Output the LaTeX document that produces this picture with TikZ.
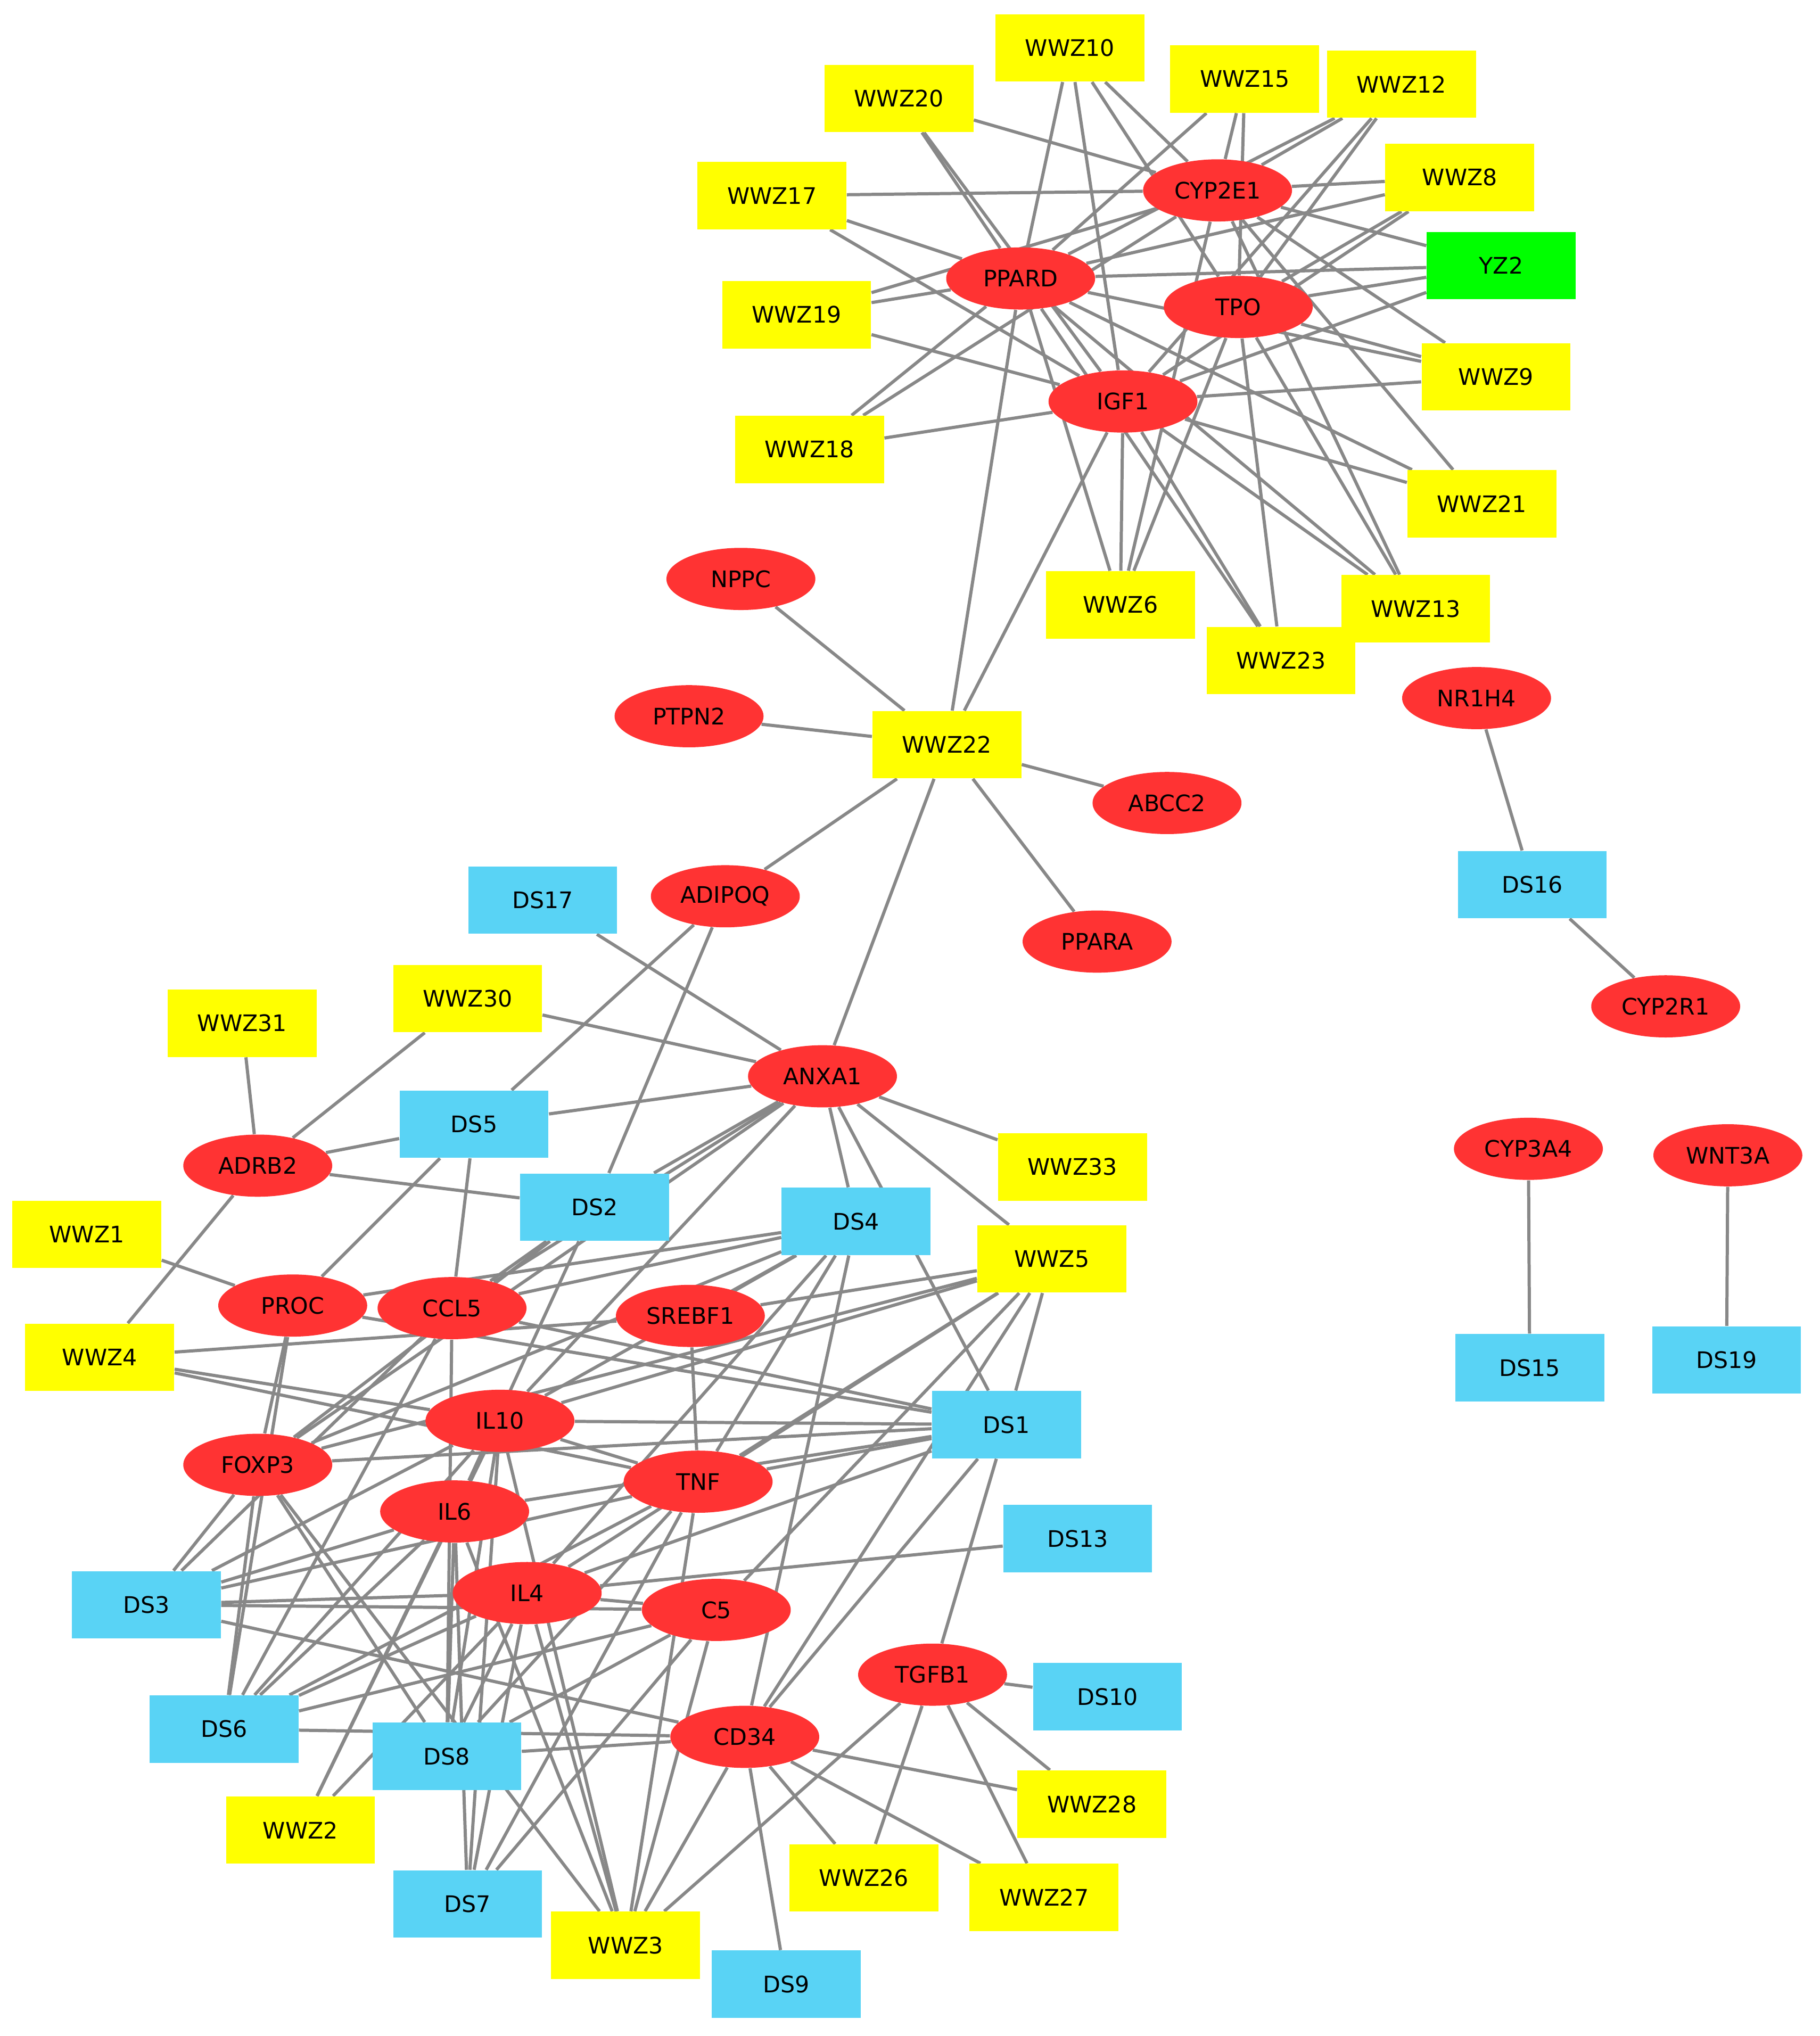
\documentclass[tikz,border=0pt]{standalone}
\usepackage{fontspec}
\setmainfont{DejaVu Sans}
\usetikzlibrary{shapes.geometric}
\pgfdeclarelayer{bg}
\pgfsetlayers{bg,main}
\definecolor{ered}{RGB}{255,51,51}
\definecolor{eyel}{RGB}{255,255,0}
\definecolor{eblu}{RGB}{89,211,245}
\definecolor{egrn}{RGB}{0,255,0}
\definecolor{egry}{RGB}{136,136,136}
\tikzset{
 base/.style={minimum width=2.3cm, font=\fontsize{10}{12}\selectfont, inner sep=0pt},
 gene/.style={base, ellipse, fill=ered, minimum height=0.96cm},
 wbox/.style={base, rectangle, fill=eyel, minimum height=1.04cm},
 dbox/.style={base, rectangle, fill=eblu, minimum height=1.04cm},
 gbox/.style={base, rectangle, fill=egrn, minimum height=1.04cm},
 edge/.style={draw=egry, line width=1.4pt}
}
\begin{document}
\begin{tikzpicture}[x=0.02cm,y=-0.02cm]
\useasboundingbox (0,0) rectangle (1405,1572);
% genes
\foreach \n/\x/\y in {CYP2E1/940/147,PPARD/788/215,TPO/956/237,IGF1/867/310,NPPC/572/447,PTPN2/532/553,NR1H4/1140/539,ABCC2/901/620,ADIPOQ/560/692,PPARA/847/727,CYP2R1/1286/777,ANXA1/635/831,ADRB2/199/900,CYP3A4/1180/887,WNT3A/1334/892,PROC/226/1008,CCL5/349/1010,SREBF1/533/1016,IL10/386/1097,FOXP3/199/1131,TNF/539/1144,IL6/351/1167,IL4/407/1230,C5/553/1243,TGFB1/720/1293,CD34/575/1341}
  \node[gene] (\n) at (\x,\y) {\n};
% yellow boxes
\foreach \n/\x/\y in {WWZ10/826/37,WWZ15/961/61,WWZ12/1082/65,WWZ20/694/76,WWZ8/1127/137,WWZ17/596/151,WWZ19/615/243,WWZ9/1155/291,WWZ18/625/347,WWZ21/1144/389,WWZ6/865/467,WWZ13/1093/470,WWZ23/989/510,WWZ22/731/575,WWZ31/187/790,WWZ30/361/771,WWZ33/828/901,WWZ1/67/953,WWZ5/812/972,WWZ4/77/1048,WWZ28/843/1393,WWZ2/232/1413,WWZ26/667/1450,WWZ27/806/1465,WWZ3/483/1502}
  \node[wbox] (\n) at (\x,\y) {\n};
% blue boxes
\foreach \n/\x/\y in {DS16/1183/683,DS17/419/695,DS5/366/868,DS2/459/932,DS4/661/943,DS15/1181/1056,DS19/1333/1050,DS1/777/1100,DS13/832/1188,DS3/113/1239,DS10/855/1310,DS6/173/1335,DS8/345/1356,DS7/361/1470,DS9/607/1532}
  \node[dbox] (\n) at (\x,\y) {\n};
\node[gbox] (YZ2) at (1159,205) {YZ2};
\begin{pgfonlayer}{bg}
\foreach \a/\b in {
WWZ10/PPARD,WWZ10/IGF1,WWZ10/TPO,WWZ10/CYP2E1,
WWZ20/CYP2E1,WWZ20/PPARD,WWZ20/IGF1,
WWZ15/PPARD,WWZ15/CYP2E1,WWZ15/TPO,
WWZ12/CYP2E1,WWZ12/PPARD,WWZ12/TPO,WWZ12/IGF1,
WWZ17/CYP2E1,WWZ17/PPARD,WWZ17/IGF1,
WWZ8/CYP2E1,WWZ8/PPARD,WWZ8/TPO,WWZ8/IGF1,
YZ2/CYP2E1,YZ2/PPARD,YZ2/TPO,YZ2/IGF1,
WWZ19/CYP2E1,WWZ19/PPARD,WWZ19/IGF1,
WWZ9/CYP2E1,WWZ9/PPARD,WWZ9/TPO,WWZ9/IGF1,
WWZ18/CYP2E1,WWZ18/PPARD,WWZ18/IGF1,
WWZ21/CYP2E1,WWZ21/PPARD,WWZ21/IGF1,
WWZ6/PPARD,WWZ6/IGF1,WWZ6/TPO,WWZ6/CYP2E1,
WWZ13/PPARD,WWZ13/IGF1,WWZ13/TPO,WWZ13/CYP2E1,
WWZ23/PPARD,WWZ23/IGF1,WWZ23/TPO,
WWZ22/PPARD,WWZ22/IGF1,WWZ22/NPPC,WWZ22/PTPN2,WWZ22/ABCC2,WWZ22/PPARA,WWZ22/ADIPOQ,WWZ22/ANXA1,
NR1H4/DS16,DS16/CYP2R1,CYP3A4/DS15,WNT3A/DS19,
DS17/ANXA1,WWZ30/ANXA1,WWZ30/ADRB2,WWZ31/ADRB2,
DS5/ANXA1,DS5/ADRB2,DS5/ADIPOQ,DS5/PROC,DS5/CCL5,
DS2/ADIPOQ,DS2/ADRB2,ADRB2/WWZ4,WWZ1/PROC,
ANXA1/WWZ33,ANXA1/WWZ5,ANXA1/DS4,ANXA1/DS2,ANXA1/CCL5,ANXA1/IL10,ANXA1/DS1,ANXA1/FOXP3,
DS2/CCL5,DS2/FOXP3,DS2/IL6,
DS4/PROC,DS4/CCL5,DS4/SREBF1,DS4/FOXP3,DS4/IL10,DS4/TNF,DS4/IL4,DS4/CD34,
WWZ5/SREBF1,WWZ5/IL10,WWZ5/FOXP3,WWZ5/TNF,WWZ5/IL4,WWZ5/C5,WWZ5/CD34,WWZ5/DS1,
WWZ4/SREBF1,WWZ4/IL10,WWZ4/TNF,
DS1/CCL5,DS1/PROC,DS1/IL10,DS1/FOXP3,DS1/TNF,DS1/IL6,DS1/IL4,DS1/CD34,DS1/TGFB1,
DS3/FOXP3,DS3/CCL5,DS3/IL10,DS3/IL6,DS3/IL4,DS3/C5,DS3/CD34,DS3/TNF,
DS6/FOXP3,DS6/PROC,DS6/CCL5,DS6/IL10,DS6/IL6,DS6/IL4,DS6/C5,DS6/TNF,DS6/CD34,
DS8/FOXP3,DS8/IL10,DS8/IL6,DS8/IL4,DS8/TNF,DS8/CD34,DS8/C5,DS8/CCL5,
DS7/IL10,DS7/IL6,DS7/IL4,DS7/C5,DS7/TNF,
WWZ2/IL6,WWZ2/IL10,WWZ2/IL4,
WWZ3/IL4,WWZ3/IL10,WWZ3/TNF,WWZ3/C5,WWZ3/CD34,WWZ3/TGFB1,WWZ3/FOXP3,WWZ3/IL6,
DS9/CD34,DS10/TGFB1,WWZ28/TGFB1,WWZ28/CD34,WWZ26/CD34,WWZ26/TGFB1,WWZ27/CD34,WWZ27/TGFB1,DS13/IL4,
IL10/TNF,IL4/C5,PROC/FOXP3,SREBF1/TNF}
  \draw[edge] (\a) -- (\b);
\end{pgfonlayer}
\end{tikzpicture}
\end{document}
